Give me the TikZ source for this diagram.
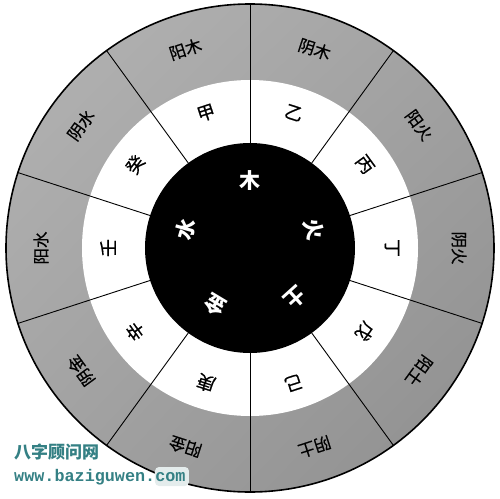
\documentclass[tikz,border=0pt]{standalone}
\usepackage{fontspec}
\usetikzlibrary{shadings}
\newfontfamily\cjk{Noto Sans CJK SC}
\newfontfamily\cjkm[FakeBold=0.6]{Noto Sans CJK SC}
\setmonofont{Liberation Mono}
\definecolor{ringlight}{RGB}{180,180,180}
\definecolor{ringmid}{RGB}{162,162,162}
\definecolor{ringdark}{RGB}{142,142,142}
\definecolor{wmteal}{RGB}{52,128,132}
\definecolor{wmback}{RGB}{228,236,236}
\tikzset{
  outerlbl/.style={font=\cjkm\fontsize{16.5}{16.5}\selectfont, inner sep=0pt},
  stemlbl/.style={font=\cjkm\fontsize{18}{18}\selectfont, inner sep=0pt},
  elemlbl/.style={font=\cjk\bfseries\fontsize{21}{21}\selectfont, text=white, inner sep=0pt},
  divider/.style={line width=0.9pt, black},
}
\begin{document}
\begin{tikzpicture}[x=1pt,y=1pt]
\useasboundingbox (-250,-250) rectangle (250,248);
% rings
\shade[upper left=ringlight, upper right=ringmid, lower left=ringmid, lower right=ringdark] (0,0) circle (244);
\fill[white] (0,0) circle (168);
\fill[black] (0,0) circle (105);
\draw[line width=1.6pt] (0,0) circle (244);
% dividers
\foreach \a in {90,54,18,-18,-54,-90,-126,-162,162,126} {
  \coordinate (in\a) at (\a:105);
  \coordinate (out\a) at (\a:244);
  \draw[divider] (in\a) -- (out\a);
}
% outer labels
\foreach \a/\t in {108/阳木,72/阴木,36/阳火,0/阴火,-36/阳土,-72/阴土,-108/阳金,-144/阴金,180/阳水,144/阴水} {
  \node[outerlbl, rotate=\a-90] (o\a) at (\a:209) {\t};
}
% stems
\foreach \a/\t in {108/甲,72/乙,36/丙,0/丁,-36/戊,-72/己,-108/庚,-144/辛,180/壬,144/癸} {
  \node[stemlbl, rotate=\a-90] (s\a) at (\a:142) {\t};
}
% elements
\foreach \a/\t in {90/木,16/火,-48/土,-121/金,164/水} {
  \node[elemlbl, rotate=\a-90] (e\a) at (\a:67) {\t};
}
% watermark
\fill[wmback, rounded corners=4pt] (-95,-238) rectangle (-61,-219);
\node[anchor=west, inner sep=0pt, text=wmteal, font=\cjk\bfseries\fontsize{17}{17}\selectfont] (wm1) at (-236,-204) {八字顾问网};
\node[anchor=west, inner sep=0pt, text=wmteal, font=\ttfamily\bfseries\fontsize{16.8}{16.8}\selectfont] (wm2) at (-236,-229) {www.baziguwen.com};
\end{tikzpicture}
\end{document}
